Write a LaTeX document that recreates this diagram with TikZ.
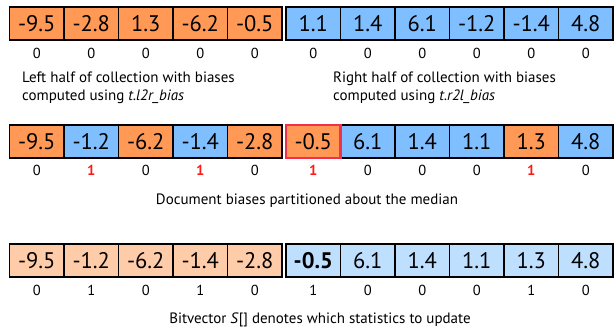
\documentclass[tikz,border=0pt]{standalone}
\usepackage{fontspec}
\setmainfont{PT Sans}
\usetikzlibrary{calc}
\begin{document}
\begin{tikzpicture}[x=1pt,y=-1pt,
  cell/.style={draw=black, line width=1.1pt, minimum width=54.5pt, minimum height=33pt,
               inner sep=0pt, font=\fontsize{22.5}{26}\selectfont},
  hot/.style={cell, fill=orangeA},
  cold/.style={cell, fill=blueA},
  hotpale/.style={cell, fill=orangeB},
  coldpale/.style={cell, fill=blueB},
  bit/.style={font=\fontsize{14.5}{17}\selectfont, inner sep=0pt},
  redbit/.style={bit, text=bitred, font=\fontsize{14.5}{17}\selectfont\bfseries},
  caption/.style={font=\fontsize{15}{17.5}\selectfont, inner sep=0pt, align=left}]
\definecolor{orangeA}{HTML}{FF9955}
\definecolor{blueA}{HTML}{80BFFF}
\definecolor{orangeB}{HTML}{FFCCAA}
\definecolor{blueB}{HTML}{BFDFFF}
\definecolor{bitred}{HTML}{FF1A1A}
\definecolor{frame}{HTML}{F0304D}
\useasboundingbox (0,0) rectangle (616,329);

% row 1: the two halves of the collection
\foreach \v [count=\i] in {-9.5,-2.8,1.3,-6.2,-0.5}
  \node[hot] (a\i) at ({9.5+54.5*(\i-0.5)},23.5) {\v};
\foreach \v [count=\i] in {1.1,1.4,6.1,-1.2,-1.4,4.8}
  \node[cold] (b\i) at ({286+54.5*(\i-0.5)},23.5) {\v};
\foreach \i in {1,...,5} \node[bit] (ab\i) at ($(a\i)+(0,30)$) {0};
\foreach \i in {1,...,6} \node[bit] (bb\i) at ($(b\i)+(0,30)$) {0};
\node[caption, anchor=north west] (capL) at (22,72)
  {Left half of collection with biases\\computed using \textit{t.l2r\_bias}};
\node[caption, anchor=north west] (capR) at (333,72)
  {Right half of collection with biases\\computed using \textit{t.r2l\_bias}};

% row 2: biases partitioned about the median
\node[hot]  (c1) at ({9.5+54.5*0.5},141.5) {-9.5};
\node[cold] (c2) at ({9.5+54.5*1.5},141.5) {-1.2};
\node[hot]  (c3) at ({9.5+54.5*2.5},141.5) {-6.2};
\node[cold] (c4) at ({9.5+54.5*3.5},141.5) {-1.4};
\node[hot]  (c5) at ({9.5+54.5*4.5},141.5) {-2.8};
\node[hot]  (d1) at ({286+54.5*0.5},141.5) {-0.5};
\node[cold] (d2) at ({286+54.5*1.5},141.5) {6.1};
\node[cold] (d3) at ({286+54.5*2.5},141.5) {1.4};
\node[cold] (d4) at ({286+54.5*3.5},141.5) {1.1};
\node[hot]  (d5) at ({286+54.5*4.5},141.5) {1.3};
\node[cold] (d6) at ({286+54.5*5.5},141.5) {4.8};
\draw[frame, line width=2.6pt] ($(d1.north west)+(0.6,0.6)$) rectangle ($(d1.south east)+(-0.6,-0.6)$);
\node[bit]    (cb1) at ($(c1)+(0,28.5)$) {0};
\node[redbit] (cb2) at ($(c2)+(0,28.5)$) {1};
\node[bit]    (cb3) at ($(c3)+(0,28.5)$) {0};
\node[redbit] (cb4) at ($(c4)+(0,28.5)$) {1};
\node[bit]    (cb5) at ($(c5)+(0,28.5)$) {0};
\node[redbit] (db1) at ($(d1)+(0,28.5)$) {1};
\node[bit]    (db2) at ($(d2)+(0,28.5)$) {0};
\node[bit]    (db3) at ($(d3)+(0,28.5)$) {0};
\node[bit]    (db4) at ($(d4)+(0,28.5)$) {0};
\node[redbit] (db5) at ($(d5)+(0,28.5)$) {1};
\node[bit]    (db6) at ($(d6)+(0,28.5)$) {0};
\node[caption] (capM) at (307,201) {Document biases partitioned about the median};

% row 3: the bitvector of statistics to update
\foreach \v/\s [count=\i] in {-9.5/0,-1.2/1,-6.2/0,-1.4/1,-2.8/0} {
  \node[hotpale] (e\i) at ({9.5+54.5*(\i-0.5)},260.5) {\v};
  \node[bit] (eb\i) at ($(e\i)+(0,29.5)$) {\s};
}
\foreach \v/\s [count=\i] in {{\bfseries -0.5}/1,6.1/0,1.4/0,1.1/0,1.3/1,4.8/0} {
  \node[coldpale] (f\i) at ({286+54.5*(\i-0.5)},260.5) {\v};
  \node[bit] (fb\i) at ($(f\i)+(0,29.5)$) {\s};
}
\node[caption] (capB) at (320,320) {Bitvector \textit{S}[] denotes which statistics to update};
\end{tikzpicture}
\end{document}
